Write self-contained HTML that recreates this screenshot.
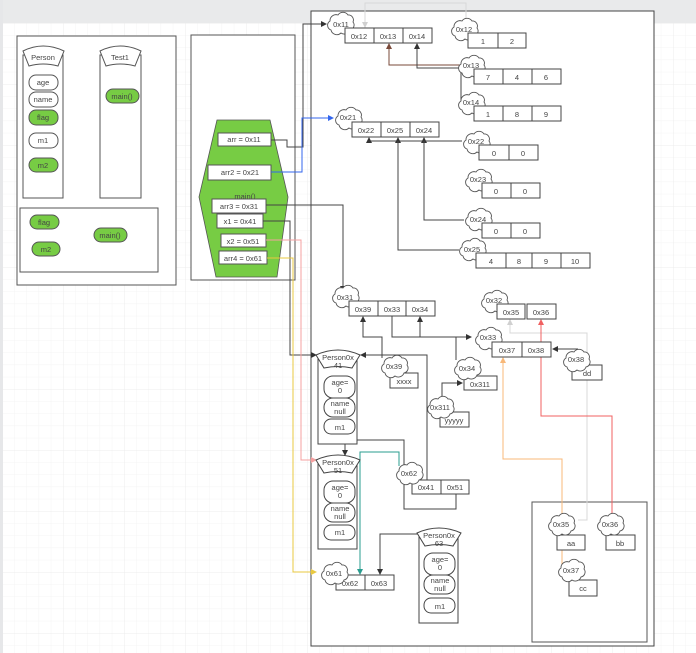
<!DOCTYPE html>
<html><head><meta charset="utf-8"><style>
html,body{margin:0;padding:0;background:#fff;}
svg{display:block;}
text{font-family:"Liberation Sans",sans-serif;font-size:7.5px;fill:#444;text-anchor:middle;}
</style></head><body>
<svg width="696" height="653" viewBox="0 0 696 653" xmlns="http://www.w3.org/2000/svg">
<defs>
<pattern id="minor" x="2" y="23" width="12.2" height="12.2" patternUnits="userSpaceOnUse"><path d="M0 0H12.2M0 0V12.2" stroke="#f4f4f4" stroke-width="1" fill="none"/></pattern>
<pattern id="major" x="2" y="23" width="61" height="61" patternUnits="userSpaceOnUse"><path d="M0 0H61M0 0V61" stroke="#ececec" stroke-width="1" fill="none"/></pattern>
<marker id="a" markerWidth="6" markerHeight="6" refX="5" refY="3" orient="auto" markerUnits="userSpaceOnUse"><path d="M0,0L6,3L0,6z" fill="#333"/></marker>
<marker id="ab" markerWidth="6" markerHeight="6" refX="5" refY="3" orient="auto" markerUnits="userSpaceOnUse"><path d="M0,0L6,3L0,6z" fill="#3366ee"/></marker>
<marker id="ap" markerWidth="6" markerHeight="6" refX="5" refY="3" orient="auto" markerUnits="userSpaceOnUse"><path d="M0,0L6,3L0,6z" fill="#f4a0a0"/></marker>
<marker id="ay" markerWidth="6" markerHeight="6" refX="5" refY="3" orient="auto" markerUnits="userSpaceOnUse"><path d="M0,0L6,3L0,6z" fill="#e8c840"/></marker>
<marker id="at" markerWidth="6" markerHeight="6" refX="5" refY="3" orient="auto" markerUnits="userSpaceOnUse"><path d="M0,0L6,3L0,6z" fill="#2a9d8f"/></marker>
<marker id="ag" markerWidth="6" markerHeight="6" refX="5" refY="3" orient="auto" markerUnits="userSpaceOnUse"><path d="M0,0L6,3L0,6z" fill="#d0d0d0"/></marker>
<marker id="ar" markerWidth="6" markerHeight="6" refX="5" refY="3" orient="auto" markerUnits="userSpaceOnUse"><path d="M0,0L6,3L0,6z" fill="#f06060"/></marker>
<marker id="ao" markerWidth="6" markerHeight="6" refX="5" refY="3" orient="auto" markerUnits="userSpaceOnUse"><path d="M0,0L6,3L0,6z" fill="#f8b878"/></marker>
<marker id="abr" markerWidth="6" markerHeight="6" refX="5" refY="3" orient="auto" markerUnits="userSpaceOnUse"><path d="M0,0L6,3L0,6z" fill="#7a4a3a"/></marker>
<path id="cl" d="M5,18 a5,5 0 0,1 -1,-9 a6,6 0 0,1 8,-6 a6,6 0 0,1 10,0 a5,5 0 0,1 5,7 a5,5 0 0,1 -3,8 a6,6 0 0,1 -9,3 a6,6 0 0,1 -10,-3z" fill="#fff" stroke="#555" stroke-width="0.9"/>
</defs>
<rect width="696" height="653" fill="#fff"/>
<rect width="696" height="653" fill="url(#minor)"/>
<rect width="696" height="653" fill="url(#major)"/>
<rect x="0" y="0" width="696" height="23" fill="#e9eaeb"/>
<rect x="0" y="0" width="3" height="653" fill="#e6e7e9"/>

<g fill="none" stroke="#555" stroke-width="1">
<rect x="17" y="36" width="159" height="249" fill="#fff"/>
<rect x="20" y="208" width="138" height="64"/>
<rect x="191" y="35" width="104" height="245" fill="#fff"/>
<rect x="311" y="11" width="343" height="635" fill="#fff" stroke="#444"/>
<rect x="532" y="502" width="115" height="140"/>
</g>

<g stroke="#555" stroke-width="1" fill="#fff">
<rect x="23" y="55" width="40" height="143"/>
<path d="M23,51 Q43,41 64,51 L58,66 Q43,62 29,66z"/>
<rect x="100" y="55" width="41" height="143"/>
<path d="M100,51 Q120,41 141,51 L135,66 Q120,62 106,66z"/>
<rect x="29" y="75" width="29" height="15" rx="7"/>
<rect x="29" y="92" width="29" height="15" rx="7"/>
<rect x="29" y="110" width="29" height="15" rx="7" fill="#77cc44"/>
<rect x="29" y="133" width="29" height="15" rx="7"/>
<rect x="29" y="158" width="29" height="14" rx="7" fill="#77cc44"/>
<rect x="106" y="89" width="33" height="14" rx="7" fill="#77cc44"/>
<rect x="30" y="215" width="29" height="14" rx="7" fill="#77cc44"/>
<rect x="32" y="242" width="28" height="14" rx="7" fill="#77cc44"/>
<rect x="94" y="228" width="33" height="14" rx="7" fill="#77cc44"/>
</g>
<text x="43" y="60">Person</text><text x="120" y="60">Test1</text>
<text x="43" y="85">age</text><text x="43" y="102">name</text><text x="43" y="120">flag</text>
<text x="43" y="143">m1</text><text x="43" y="168">m2</text><text x="122" y="99">main()</text>
<text x="44" y="225">flag</text><text x="46" y="252">m2</text><text x="110" y="238">main()</text>

<path d="M217,120 L270,120 L288,197 L277,277 L216,277 L199,197z" fill="#77cc44" stroke="#555" stroke-width="0.8"/>
<text x="245" y="199">main()</text>
<g stroke="#555" stroke-width="1" fill="#fff">
<rect x="218" y="133" width="53" height="13"/>
<rect x="208" y="165" width="63" height="15"/>
<rect x="212" y="199" width="54" height="14"/>
<rect x="217" y="214" width="46" height="14"/>
<rect x="221" y="234" width="45" height="13"/>
<rect x="219" y="251" width="48" height="13"/>
</g>
<text x="244" y="142">arr = 0x11</text><text x="240" y="175">arr2 = 0x21</text>
<text x="239" y="209">arr3 = 0x31</text><text x="240" y="224">x1 = 0x41</text>
<text x="243" y="244">x2 = 0x51</text><text x="243" y="261">arr4 = 0x61</text>

<g fill="none" stroke-width="1">
<path d="M271,140H287V147H303V24H326" stroke="#444" marker-end="url(#a)"/>
<path d="M271,172H302V118H333" stroke="#3366ee" marker-end="url(#ab)"/>
<path d="M266,205H343V291" stroke="#444" marker-end="url(#a)"/>
<path d="M263,221H290V355H316" stroke="#444" marker-end="url(#a)"/>
<path d="M266,240H301V460H316" stroke="#f4a0a0" marker-end="url(#ap)"/>
<path d="M267,258H293V572H316" stroke="#e8c840" marker-end="url(#ay)"/>
<path d="M466,18V3H365V27" stroke="#d8d8d8" marker-end="url(#ag)"/>
<path d="M462,65H389V44" stroke="#7a4a3a" marker-end="url(#abr)"/>
<path d="M463,68H417V44" stroke="#444" marker-end="url(#a)"/>
<path d="M461,66V101" stroke="#444"/>
<path d="M462,141H369V138" stroke="#444" marker-end="url(#a)"/>
<path d="M398,141V138" stroke="#444" marker-end="url(#a)"/>
<path d="M424,141V138" stroke="#444" marker-end="url(#a)"/>
<path d="M424,141V220H464" stroke="#444"/>
<path d="M398,141V250H459" stroke="#444"/>
<path d="M382,358V337H363V317" stroke="#444" marker-end="url(#a)"/>
<path d="M392,316V337H471" stroke="#444" marker-end="url(#a)"/>
<path d="M420,337V317" stroke="#444" marker-end="url(#a)"/>
<path d="M456,337V360" stroke="#444"/>
<path d="M442,400V383H462" stroke="#444" marker-end="url(#a)"/>
<path d="M427,480V355H361" stroke="#444" marker-end="url(#a)"/>
<path d="M456,494V509H404V440H345V455" stroke="#444" marker-end="url(#a)"/>
<path d="M399,466V452H360V574" stroke="#2a9d8f" marker-end="url(#at)"/>
<path d="M420,534H380V574" stroke="#444" marker-end="url(#a)"/>
<path d="M578,349H553" stroke="#444" marker-end="url(#a)"/>
<path d="M578,520H587V333H510V320" stroke="#d8d8d8" marker-end="url(#ag)"/>
<path d="M612,515V416H541V320" stroke="#f06060" marker-end="url(#ar)"/>
<path d="M562,565V459H503V358" stroke="#f8b878" marker-end="url(#ao)"/>
</g>

<use href="#cl" x="326" y="12"/><text x="341" y="27">0x11</text>
<use href="#cl" x="450" y="18"/><text x="464" y="32">0x12</text>
<use href="#cl" x="457" y="55"/><text x="471" y="68">0x13</text>
<use href="#cl" x="457" y="92"/><text x="471" y="105">0x14</text>
<use href="#cl" x="334" y="107"/><text x="348" y="120">0x21</text>
<use href="#cl" x="462" y="131"/><text x="476" y="144">0x22</text>
<use href="#cl" x="464" y="169"/><text x="478" y="182">0x23</text>
<use href="#cl" x="464" y="208"/><text x="478" y="222">0x24</text>
<use href="#cl" x="458" y="238"/><text x="472" y="252">0x25</text>
<use href="#cl" x="331" y="285"/><text x="345" y="300">0x31</text>
<use href="#cl" x="480" y="290"/><text x="494" y="303">0x32</text>
<use href="#cl" x="474" y="327"/><text x="488" y="340">0x33</text>

<g stroke="#444" stroke-width="1" fill="#fff">
<rect x="345" y="28" width="29" height="15"/><rect x="374" y="28" width="29" height="15"/><rect x="403" y="28" width="29" height="15"/>
<rect x="468" y="33" width="30" height="15"/><rect x="498" y="33" width="28" height="15"/>
<rect x="474" y="69" width="29" height="15"/><rect x="503" y="69" width="29" height="15"/><rect x="532" y="69" width="29" height="15"/>
<rect x="474" y="106" width="29" height="15"/><rect x="503" y="106" width="29" height="15"/><rect x="532" y="106" width="29" height="15"/>
<rect x="352" y="122" width="29" height="15"/><rect x="381" y="122" width="29" height="15"/><rect x="410" y="122" width="29" height="15"/>
<rect x="479" y="145" width="30" height="15"/><rect x="509" y="145" width="29" height="15"/>
<rect x="482" y="183" width="29" height="15"/><rect x="511" y="183" width="29" height="15"/>
<rect x="482" y="223" width="29" height="15"/><rect x="511" y="223" width="29" height="15"/>
<rect x="476" y="253" width="30" height="15"/><rect x="506" y="253" width="26" height="15"/><rect x="532" y="253" width="29" height="15"/><rect x="561" y="253" width="29" height="15"/>
<rect x="349" y="301" width="29" height="15"/><rect x="378" y="301" width="28" height="15"/><rect x="406" y="301" width="29" height="15"/>
<rect x="497" y="304" width="28" height="15"/><rect x="527" y="304" width="29" height="15"/>
<rect x="492" y="342" width="30" height="15"/><rect x="522" y="342" width="29" height="15"/>
<rect x="572" y="365" width="30" height="15"/>
<rect x="390" y="373" width="28" height="15"/>
<rect x="464" y="376" width="33" height="14"/>
<rect x="440" y="412" width="29" height="15"/>
<rect x="412" y="480" width="29" height="14"/><rect x="441" y="480" width="28" height="14"/>
<rect x="336" y="575" width="29" height="15"/><rect x="365" y="575" width="29" height="15"/>
<rect x="557" y="535" width="28" height="15"/><rect x="606" y="535" width="29" height="15"/><rect x="569" y="580" width="28" height="16"/>
</g>
<text x="359" y="39">0x12</text><text x="388" y="39">0x13</text><text x="417" y="39">0x14</text>
<text x="483" y="44">1</text><text x="512" y="44">2</text>
<text x="488" y="80">7</text><text x="517" y="80">4</text><text x="546" y="80">6</text>
<text x="488" y="117">1</text><text x="517" y="117">8</text><text x="546" y="117">9</text>
<text x="366" y="133">0x22</text><text x="395" y="133">0x25</text><text x="424" y="133">0x24</text>
<text x="494" y="156">0</text><text x="523" y="156">0</text>
<text x="496" y="194">0</text><text x="525" y="194">0</text>
<text x="496" y="234">0</text><text x="525" y="234">0</text>
<text x="491" y="264">4</text><text x="519" y="264">8</text><text x="546" y="264">9</text><text x="575" y="264">10</text>
<text x="363" y="312">0x39</text><text x="392" y="312">0x33</text><text x="420" y="312">0x34</text>
<text x="511" y="315">0x35</text><text x="541" y="315">0x36</text>
<text x="507" y="353">0x37</text><text x="536" y="353">0x38</text>
<text x="587" y="376">dd</text><text x="404" y="384">xxxx</text><text x="480" y="387">0x311</text><text x="454" y="423">yyyyy</text>
<text x="426" y="490">0x41</text><text x="455" y="490">0x51</text>
<text x="350" y="586">0x62</text><text x="379" y="586">0x63</text>
<text x="571" y="546">aa</text><text x="620" y="546">bb</text><text x="583" y="591">cc</text>

<use href="#cl" x="562" y="349"/><text x="576" y="362">0x38</text>
<use href="#cl" x="380" y="355"/><text x="394" y="369">0x39</text>
<use href="#cl" x="453" y="357"/><text x="467" y="371">0x34</text>
<use href="#cl" x="426" y="396"/><text x="440" y="410">0x311</text>
<use href="#cl" x="395" y="462"/><text x="409" y="476">0x62</text>
<use href="#cl" x="320" y="562"/><text x="334" y="576">0x61</text>
<use href="#cl" x="547" y="513"/><text x="561" y="527">0x35</text>
<use href="#cl" x="596" y="513"/><text x="610" y="527">0x36</text>
<use href="#cl" x="557" y="559"/><text x="571" y="573">0x37</text>

<g stroke="#444" stroke-width="1" fill="#fff">
<rect x="318" y="358" width="39" height="86"/>
<path d="M316,355 Q338,345 360,355 L352,368 Q338,365 324,368z"/>
<rect x="324" y="376" width="31" height="22" rx="9"/><rect x="324" y="398" width="31" height="19" rx="9"/><rect x="324" y="419" width="31" height="15" rx="7"/>
<rect x="318" y="463" width="39" height="86"/>
<path d="M316,460 Q338,450 360,460 L352,473 Q338,470 324,473z"/>
<rect x="324" y="481" width="31" height="22" rx="9"/><rect x="324" y="503" width="31" height="19" rx="9"/><rect x="324" y="525" width="31" height="15" rx="7"/>
<rect x="419" y="536" width="39" height="87"/>
<path d="M417,533 Q439,523 461,533 L453,546 Q439,543 425,546z"/>
<rect x="424" y="553" width="31" height="22" rx="9"/><rect x="424" y="575" width="31" height="19" rx="9"/><rect x="424" y="598" width="31" height="15" rx="7"/>
</g>
<text x="338" y="360">Person0x</text><text x="338" y="368">41</text>
<text x="340" y="385">age=</text><text x="340" y="393">0</text><text x="340" y="406">name</text><text x="340" y="414">null</text><text x="340" y="430">m1</text>
<text x="338" y="465">Person0x</text><text x="338" y="473">51</text>
<text x="340" y="490">age=</text><text x="340" y="498">0</text><text x="340" y="511">name</text><text x="340" y="519">null</text><text x="340" y="535">m1</text>
<text x="439" y="538">Person0x</text><text x="439" y="546">63</text>
<text x="440" y="562">age=</text><text x="440" y="570">0</text><text x="440" y="583">name</text><text x="440" y="591">null</text><text x="440" y="609">m1</text>
</svg>
</body></html>
